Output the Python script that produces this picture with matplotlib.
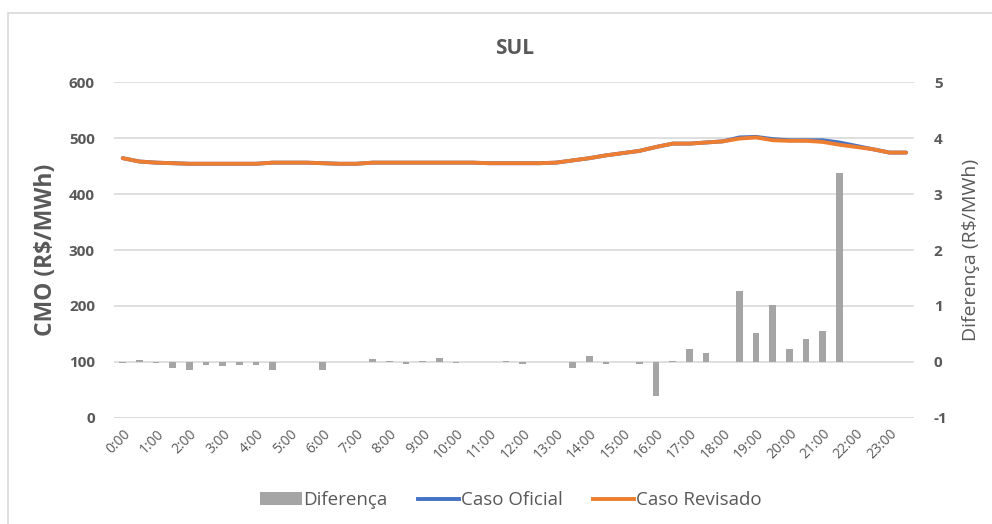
import matplotlib.pyplot as plt
from matplotlib.patches import Rectangle, Patch
from matplotlib.lines import Line2D

plt.rcParams['font.family'] = ['Open Sans', 'DejaVu Sans']
plt.rcParams['axes.unicode_minus'] = False

# categorias: meia em meia hora
horas = [f'{h}:{m:02d}' for h in range(24) for m in (0, 30)]

caso_revisado = [464, 458, 456, 455, 454, 454, 454, 454, 454, 456, 456, 456,
                 455, 454, 454, 456, 456, 456, 456, 456, 456, 456, 455, 455,
                 455, 455, 456, 460, 464, 469, 473, 477, 484, 490, 490, 492,
                 494, 499, 501, 496, 495, 495, 493, 488, 484, 480, 474, 474]

caso_oficial = [464, 458, 456, 455, 454, 454, 454, 454, 454, 456, 456, 456,
                455, 454, 454, 456, 456, 456, 456, 456, 456, 456, 455, 455,
                455, 455, 456, 460, 464, 469, 473, 477, 484, 490, 490, 492,
                494, 501, 502, 498, 496, 496, 496, 492, 486, 480, 474, 474]

diferenca = [-0.02, 0.04, -0.02, -0.11, -0.14, -0.06, -0.08, -0.06, -0.06, -0.14, 0, 0,
             -0.14, 0, 0, 0.05, 0.01, -0.04, 0.01, 0.07, -0.01, 0, 0, 0.01,
             -0.04, 0, 0, -0.10, 0.11, -0.03, 0, -0.03, -0.61, 0.02, 0.23, 0.155,
             0, 1.26, 0.52, 1.02, 0.23, 0.41, 0.55, 3.375, 0, 0, 0, 0]

x = list(range(len(horas)))
cor_texto = '#595959'
azul = '#4472C4'
laranja = '#ED7D31'
cinza = '#A5A5A5'

fig = plt.figure(figsize=(9.92, 5.24), dpi=100)
ax1 = fig.add_axes([0.1153, 0.2023, 0.8065, 0.6412])
ax2 = ax1.twinx()

# barras no eixo secundario (fica atras)
ax2.bar(x, diferenca, width=0.4, color=cinza, zorder=3)
ax2.set_ylim(-1, 5)
ax2.set_yticks(range(-1, 6))
ax2.yaxis.grid(True, color='#D9D9D9', linewidth=1.2, zorder=0)
ax2.set_axisbelow(True)
ax2.set_ylabel('Diferença (R$/MWh)', fontsize=14, color=cor_texto, labelpad=10)

# linhas no eixo principal
ax1.set_zorder(ax2.get_zorder() + 1)
ax1.patch.set_visible(False)
ax1.plot(x, caso_oficial, color=azul, linewidth=2.8, solid_capstyle='round')
ax1.plot(x, caso_revisado, color=laranja, linewidth=2.8, solid_capstyle='round')
ax1.set_ylim(0, 600)
ax1.set_yticks(range(0, 601, 100))
ax1.set_xlim(-0.5, len(horas) - 0.5)
ax1.set_xticks(x[::2])
ax1.set_xticklabels(horas[::2], rotation=45, ha='right', rotation_mode='anchor',
                    fontsize=10, color=cor_texto)
ax1.set_ylabel('CMO (R$/MWh)', fontsize=16.5, fontweight='bold', color=cor_texto, labelpad=8)
ax1.set_title('SUL', fontsize=15, fontweight='bold', color=cor_texto, pad=20)

for ax in (ax1, ax2):
    for s in ax.spines.values():
        s.set_visible(False)
    ax.tick_params(axis='both', length=0, colors=cor_texto)
    for lbl in ax.get_yticklabels():
        lbl.set_fontsize(11)
        lbl.set_fontweight('bold')
ax1.tick_params(axis='x', pad=6)
ax1.tick_params(axis='y', pad=14)
ax2.tick_params(axis='y', pad=14)

# eixo x (linha do zero da escala esquerda)
ax1.axhline(0, color='#D9D9D9', linewidth=1.2)

handles = [Patch(facecolor=cinza),
           Line2D([], [], color=azul, linewidth=2.8),
           Line2D([], [], color=laranja, linewidth=2.8)]
fig.legend(handles, ['Diferença', 'Caso Oficial', 'Caso Revisado'], loc='center',
           bbox_to_anchor=(0.515, 0.045), ncol=3, frameon=False, fontsize=13.5,
           labelcolor=cor_texto, handlelength=2.2, handletextpad=0.1, columnspacing=1.6)

# moldura do grafico
fig.patches.append(Rectangle((8 / 992, -0.1), 1.2, 1.1 - 13 / 524, transform=fig.transFigure,
                             fill=False, edgecolor='#D9D9D9', linewidth=1.2))

plt.savefig('out.png')
